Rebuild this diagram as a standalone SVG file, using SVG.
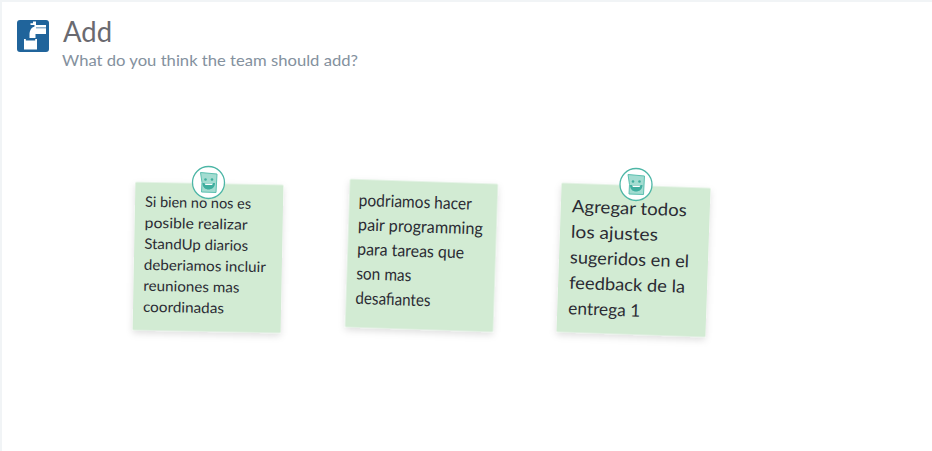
<svg xmlns="http://www.w3.org/2000/svg" width="932" height="451" viewBox="0 0 932 451">
<style>
.title{font-family:"Lato","Liberation Sans",sans-serif;font-size:28px;font-weight:400;fill:#6a6a70}
.sub{font-family:"Lato","Liberation Sans",sans-serif;font-size:16px;font-weight:400;fill:#84919e}
.note{fill:#d2ebd3;filter:url(#sh)}
.t{font-family:"Lato","Noto Sans",sans-serif;fill:#2b2b33}
.badge{fill:#fff;stroke:#4db6a6;stroke-width:1.3}
.paper{fill:#a3dcd1;stroke:#5cc0b0;stroke-width:1}
.face{fill:#3fae9f}
.mouth{fill:#3fae9f}
</style>
<defs>
<filter id="sh" x="-15%" y="-15%" width="130%" height="130%"><feDropShadow dx="0" dy="3" stdDeviation="3.5" flood-color="#000" flood-opacity=".13"/></filter>
<g id="bd">
<circle class="badge" r="16"/>
<path class="paper" d="M-8-10 8.500-8.500 7.500 10-7 9.500-6.500 0Z"/>
<circle class="face" cx="-3" cy="-3" r="1.300"/><circle class="face" cx="3.500" cy="-3" r="1.300"/>
<path class="mouth" d="M-6 0.500H6.500C6.500 5 3 7 0 7S-6 5-6 0.500Z"/>
<path d="M-4 1H4.500L3.500 2.600H-3Z" fill="#fff"/>
</g>
</defs>
<rect width="932" height="451" fill="#f1f4f6"/>
<rect x="2" y="2" width="930" height="449" fill="#fff"/>
<g id="header">
<rect x="17" y="20" width="32" height="32" rx="3" fill="#20649b"/>
<path d="M33 21.500h3V25h10v2.500h-10v.8h10V34H35.500V38h-6V35c0-5 2-7.500 5-8.500V25h-4v-1.800h2.500Z" fill="#fff"/>
<path d="M24 39h1.800v1.500h9.400V39H37V49.500H24Z" fill="#fff"/>
<text class="title" x="63" y="42" textLength="49" lengthAdjust="spacingAndGlyphs">Add</text>
<text class="sub" x="62" y="65.500" textLength="296" lengthAdjust="spacingAndGlyphs">What do you think the team should add?</text>
</g>
<g id="note1" transform="rotate(1.1 208 257.500)">
<rect class="note" x="134" y="183.500" width="148" height="148" rx="1"/>
<g class="t" font-size="14.500">
<text x="144" y="208" textLength="106" lengthAdjust="spacingAndGlyphs">Si bien no nos es</text>
<text x="144" y="229" textLength="103" lengthAdjust="spacingAndGlyphs">posible realizar</text>
<text x="144" y="250" textLength="104" lengthAdjust="spacingAndGlyphs">StandUp diarios</text>
<text x="144" y="271" textLength="122" lengthAdjust="spacingAndGlyphs">deberiamos incluir</text>
<text x="144" y="292" textLength="96" lengthAdjust="spacingAndGlyphs">reuniones mas</text>
<text x="144" y="313" textLength="81" lengthAdjust="spacingAndGlyphs">coordinadas</text>
</g>
</g>
<use id="badge1" href="#bd" x="208.500" y="182.500"/>
<g id="note2" transform="rotate(1.9 421.500 255.500)">
<rect class="note" x="347.500" y="181.500" width="148" height="148" rx="1"/>
<g class="t" font-size="17">
<text x="357" y="208" textLength="113" lengthAdjust="spacingAndGlyphs">podriamos hacer</text>
<text x="357" y="232.500" textLength="125" lengthAdjust="spacingAndGlyphs">pair programming</text>
<text x="357" y="257" textLength="107" lengthAdjust="spacingAndGlyphs">para tareas que</text>
<text x="357" y="281.500" textLength="55" lengthAdjust="spacingAndGlyphs">son mas</text>
<text x="357" y="306" textLength="75" lengthAdjust="spacingAndGlyphs">desafiantes</text>
</g>
</g>
<g id="note3" transform="rotate(2 634 260)">
<rect class="note" x="559" y="185.500" width="149" height="149" rx="1"/>
<g class="t" font-size="17.500">
<text x="570" y="214.500" textLength="115" lengthAdjust="spacingAndGlyphs">Agregar todos</text>
<text x="570" y="240" textLength="87" lengthAdjust="spacingAndGlyphs">los ajustes</text>
<text x="570" y="265.500" textLength="119" lengthAdjust="spacingAndGlyphs">sugeridos en el</text>
<text x="570" y="291" textLength="116" lengthAdjust="spacingAndGlyphs">feedback de la</text>
<text x="570" y="316.500" textLength="72" lengthAdjust="spacingAndGlyphs">entrega 1</text>
</g>
</g>
<use id="badge3" href="#bd" x="636" y="184.500"/>
</svg>
